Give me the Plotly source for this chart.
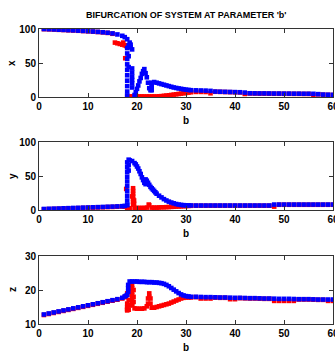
import plotly.graph_objects as go

# ---- parameter grid (b) ----
b_pre = [1, 2, 3, 4, 5, 6, 7, 8, 9, 10, 11, 12, 13, 14, 15, 16, 17]
b_mid = [17.5, 18, 18.5, 19, 19.5, 20, 20.5, 21, 21.5, 22, 22.5, 23, 23.5, 24,
         24.5, 25, 25.5, 26, 26.5, 27, 27.5, 28, 28.5, 29, 29.5, 30, 30.5, 31]
b_post = [32, 33, 34, 35, 36, 37, 38, 39, 40, 41, 42, 43, 44, 45, 46, 47, 48,
          49, 50, 51, 52, 53, 54, 55, 56, 57, 58, 59, 60]

# ---- x: maxima (blue) and minima (red) ----
x_blue_pre = [100, 99.7, 99.4, 99, 98.7, 98.3, 98, 97.6, 97.2, 96.8, 96.3, 95.8, 95.2, 94.5, 93.5, 92, 90]
x_blue_mid = [88, 85, 80, 70, 3, 12, 23, 34, 41, 29, 13, 21, 22, 21, 20, 19, 18, 17, 16, 15, 14,
              13.3, 12.6, 12, 11.4, 10.8, 10.4, 10]
x_blue_post = [9.8, 9.6, 9.4, 9, 8, 7.8, 7.6, 7.4, 7.2, 7, 6.5, 5.5, 5.4, 5.3, 5.3, 5.2, 5.1, 5.1,
               5, 5, 4.9, 4.9, 4.8, 4.8, 4.7, 4.2, 3.6, 3.4, 3.2]
xb_extra_b = [18, 18, 18, 18, 18, 18, 18, 18, 18, 18, 18.3, 18.3, 18.3, 19, 19, 19, 19, 19, 19,
              18.7, 18.7, 19.75, 20.25, 20.75, 21.25, 21.75, 22.25, 22.75, 23, 23, 23]
xb_extra_v = [72, 64, 56, 48, 40, 32, 24, 16, 8, 2, 76, 60, 44, 42, 36, 30, 25, 20, 14,
              77, 73, 7, 17, 28, 38, 35, 21, 10, 10, 14, 17]

x_red_pre = [99.8, 99.5, 99.2, 98.8, 98.5, 98.1, 97.8, 97.4, 97, 96.6, 96.1, 95.6, 95, 94.3, 93, 79, 77]
x_red_mid = [76, 0.8, 0.8, 0.8, 0.8, 0.8, 0.8, 0.8, 0.8, 0.8, 0.8, 0.8, 0.8, 0.8,
             1, 1.3, 1.7, 2.1, 2.5, 3, 3.5, 4, 4.5, 5, 5.5, 6, 6.5, 7]
x_red_post = [7.5, 7.5, 7.4, 5.5, 7.7, 7.5, 7.3, 7.1, 6.9, 6.7, 4.5, 5.2, 5.1, 5, 5, 4.9, 4.8, 4.8,
              4.7, 4.7, 4.6, 4.6, 4.5, 4.5, 3, 3.9, 3.3, 3.1, 2.9]
xr_extra_b = [15.5, 16.5, 17.2, 17.6, 17.8]
xr_extra_v = [80, 78, 80, 57, 75]

# ---- y ----
y_blue_pre = [1.5, 1.8, 2, 2.2, 2.5, 2.7, 3, 3.2, 3.5, 3.7, 4, 4.2, 4.5, 4.8, 5, 5.3, 5.6]
y_blue_mid = [6, 7, 73, 72, 69, 64, 57, 48, 40, 43, 37, 32, 28, 24, 21, 18.5, 16, 14, 12.3, 11,
              9.8, 8.8, 8, 7.5, 7.1, 6.9, 6.8, 6.7]
y_blue_post = [6.6] * 16 + [8] * 13
yb_extra_b = [18, 18, 18, 18, 18, 18, 18, 18, 18, 18, 18.3, 18.3, 18.3,
              19.75, 20.25, 20.75, 21.25, 21.75, 21.75, 22.25, 22.75, 23.25, 23.75]
yb_extra_v = [70, 63, 56, 49, 42, 35, 28, 21, 14, 8, 74, 66, 58,
              67, 61, 53, 44, 38, 45, 40, 34, 30, 26]

y_red_pre = [1, 1.3, 1.5, 1.7, 2, 2.2, 2.5, 2.7, 3, 3.2, 3.5, 3.7, 4, 4.3, 4.5, 4.8, 5.1]
y_red_mid = [5, 2, 2.5, 20, 3, 3, 3, 3, 3, 3.5, 7, 3.5, 3.5, 3.5, 3.7, 4, 4, 4.2, 4.4, 4.6,
             4.8, 5, 5.2, 5.4, 5.6, 5.8, 6, 6.2]
y_red_post = [6.3] * 16 + [5] + [7.7] * 12
yr_extra_b = [17.8, 19.2, 19.2, 19.2, 19.2, 19.2, 19.2, 19.2, 19.4, 19.4, 22.4]
yr_extra_v = [31, 32, 28, 24, 20, 16, 12, 8, 14, 9, 8]

# ---- z ----
z_blue_pre = [12.8, 13.1, 13.4, 13.7, 14, 14.3, 14.6, 14.9, 15.2, 15.5, 15.8, 16.1, 16.4, 16.7, 17, 17.3, 17.7]
z_blue_mid = [18.1, 18.6, 22.5, 22.5, 22.5, 22.5, 22.4, 22.4, 22.4, 22.3, 22.3, 22.3, 22.2, 22.2,
              22.1, 22, 21.8, 21.5, 21.1, 20.6, 20.1, 19.6, 19.1, 18.7, 18.4, 18.2, 18.1, 18]
z_blue_post = [18, 17.95, 17.9, 17.9, 17.85, 17.8, 17.8, 17.75, 17.7,
               17.7, 17.65, 17.6, 17.6, 17.55, 17.5, 17.5, 17.45, 17.4, 17.4,
               17.4, 17.35, 17.3, 17.3, 17.3, 17.25, 17.2, 17.2, 17.2, 17.2]
zb_extra_b = [17.75, 18.2, 18.2, 18.2]
zb_extra_v = [18.3, 19.5, 20.5, 21.5]

z_red_pre = [12.65, 12.95, 13.25, 13.55, 13.85, 14.15, 14.45, 14.75, 15.05, 15.35, 15.65, 15.95,
             16.25, 16.55, 16.85, 17.15, 17.5]
z_red_mid = [17.9, 14.2, 15.5, 16, 14.6, 14.5, 14.5, 14.5, 14.6, 15.2, 19, 14.8, 14.8, 15, 15.2,
             15.4, 15.6, 15.8, 16, 16.3, 16.6, 16.9, 17.2, 17.5, 17.7, 17.8, 17.8, 17.8]
z_red_post = [17.9, 17.5, 17.5, 17.5, 17.75, 17.7, 17.7, 17.3, 17.3, 17.6, 17.55, 17.5, 17.5, 17.45,
              17.4, 17.4, 16.8, 16.8, 16.8, 16.8, 16.8, 17.2, 17.2, 17.2, 17.15, 17.1, 17.1, 16.8, 16.8]
zr_extra_b = [18, 18, 18, 18, 18, 18, 18.3, 18.3, 18.3, 19, 19, 19, 19, 19, 19, 19,
              19.3, 19.3, 19.3, 22.25, 22.25, 22.75, 22.75, 22.5]
zr_extra_v = [14, 14.5, 15, 16, 18.5, 19, 14.2, 17, 20, 21.5, 20.5, 19.5, 18.5, 17.5, 16.5, 15.5,
              20, 18, 16.5, 16, 17.5, 17.5, 16, 18]

x_ticks = [0, 10, 20, 30, 40, 50, 60]
panel_ticks = [[0, 50, 100], [0, 50, 100], [10, 20, 30]]
panel_ranges = [[0, 100], [0, 100], [10, 30]]
panel_names = ["x", "y", "z"]
title_text = "BIFURCATION OF SYSTEM AT PARAMETER 'b'"

BLUE = "#0000ff"
RED = "#ff0000"
FONT = "Liberation Sans Narrow, Liberation Sans, Arial, sans-serif"

panels = [
    (x_red_pre + x_red_mid + x_red_post, xr_extra_b, xr_extra_v,
     x_blue_pre + x_blue_mid + x_blue_post, xb_extra_b, xb_extra_v),
    (y_red_pre + y_red_mid + y_red_post, yr_extra_b, yr_extra_v,
     y_blue_pre + y_blue_mid + y_blue_post, yb_extra_b, yb_extra_v),
    (z_red_pre + z_red_mid + z_red_post, zr_extra_b, zr_extra_v,
     z_blue_pre + z_blue_mid + z_blue_post, zb_extra_b, zb_extra_v),
]
b_all = b_pre + b_mid + b_post

fig = go.Figure()
W, H = 335, 354
mt, mb, ml, mr = 29, 30, 39, 2
ph = H - mt - mb
pw = W - ml - mr

def ypaper(py):
    return (H - mb - py) / ph

# pixel extents of each panel (top, bottom)
extents = [(29, 97), (142, 210), (256, 324)]

layout_axes = {}
annotations = []
for i, (rv, rb_e, rv_e, bv, bb_e, bv_e) in enumerate(panels):
    ax = "" if i == 0 else str(i + 1)
    fig.add_trace(go.Scatter(x=b_all + rb_e, y=rv + rv_e, mode="markers",
                             marker=dict(color=RED, size=4.6, symbol="square", line=dict(width=0)),
                             xaxis="x" + ax, yaxis="y" + ax, showlegend=False))
    fig.add_trace(go.Scatter(x=b_all + bb_e, y=bv + bv_e, mode="markers",
                             marker=dict(color=BLUE, size=4.6, symbol="square", line=dict(width=0)),
                             xaxis="x" + ax, yaxis="y" + ax, showlegend=False))
    top, bot = extents[i]
    common = dict(showline=True, linecolor="#333", linewidth=1, mirror="allticks",
                  ticks="inside", ticklen=4, tickcolor="#333", showgrid=False, zeroline=False,
                  automargin=False,
                  tickfont=dict(family=FONT, size=10, color="#000", weight="bold"))
    layout_axes["xaxis" + ax] = dict(domain=[0, 1], range=[0, 60], tickvals=x_ticks,
                                     ticklabeloverflow="allow", anchor="y" + ax, **common)
    layout_axes["yaxis" + ax] = dict(domain=[ypaper(bot), ypaper(top)], range=panel_ranges[i],
                                     tickvals=panel_ticks[i], anchor="x" + ax, **common)
    annotations.append(dict(text="<b>b</b>", xref="paper", yref="paper", x=0.5,
                            y=ypaper(bot + 23), showarrow=False, xanchor="center", yanchor="middle",
                            font=dict(family=FONT, size=10, color="#000")))
    annotations.append(dict(text="<b>" + panel_names[i] + "</b>", xref="paper", yref="paper",
                            x=(12 - ml) / pw, y=ypaper((top + bot) / 2), showarrow=False,
                            textangle=-90, xanchor="center", yanchor="middle",
                            font=dict(family=FONT, size=10, color="#000")))

annotations.append(dict(text="<b>" + title_text + "</b>", xref="paper", yref="paper", x=0.5,
                        y=ypaper(15), showarrow=False, xanchor="center", yanchor="middle",
                        font=dict(family=FONT, size=9, color="#000")))

fig.update_layout(width=W, height=H, margin=dict(l=ml, r=mr, t=mt, b=mb, autoexpand=False),
                  paper_bgcolor="white", plot_bgcolor="white",
                  annotations=annotations, **layout_axes)

fig.write_html("out.html", config={"displayModeBar": False},
               post_script="document.body.style.margin='0px';document.body.style.overflow='hidden';")
